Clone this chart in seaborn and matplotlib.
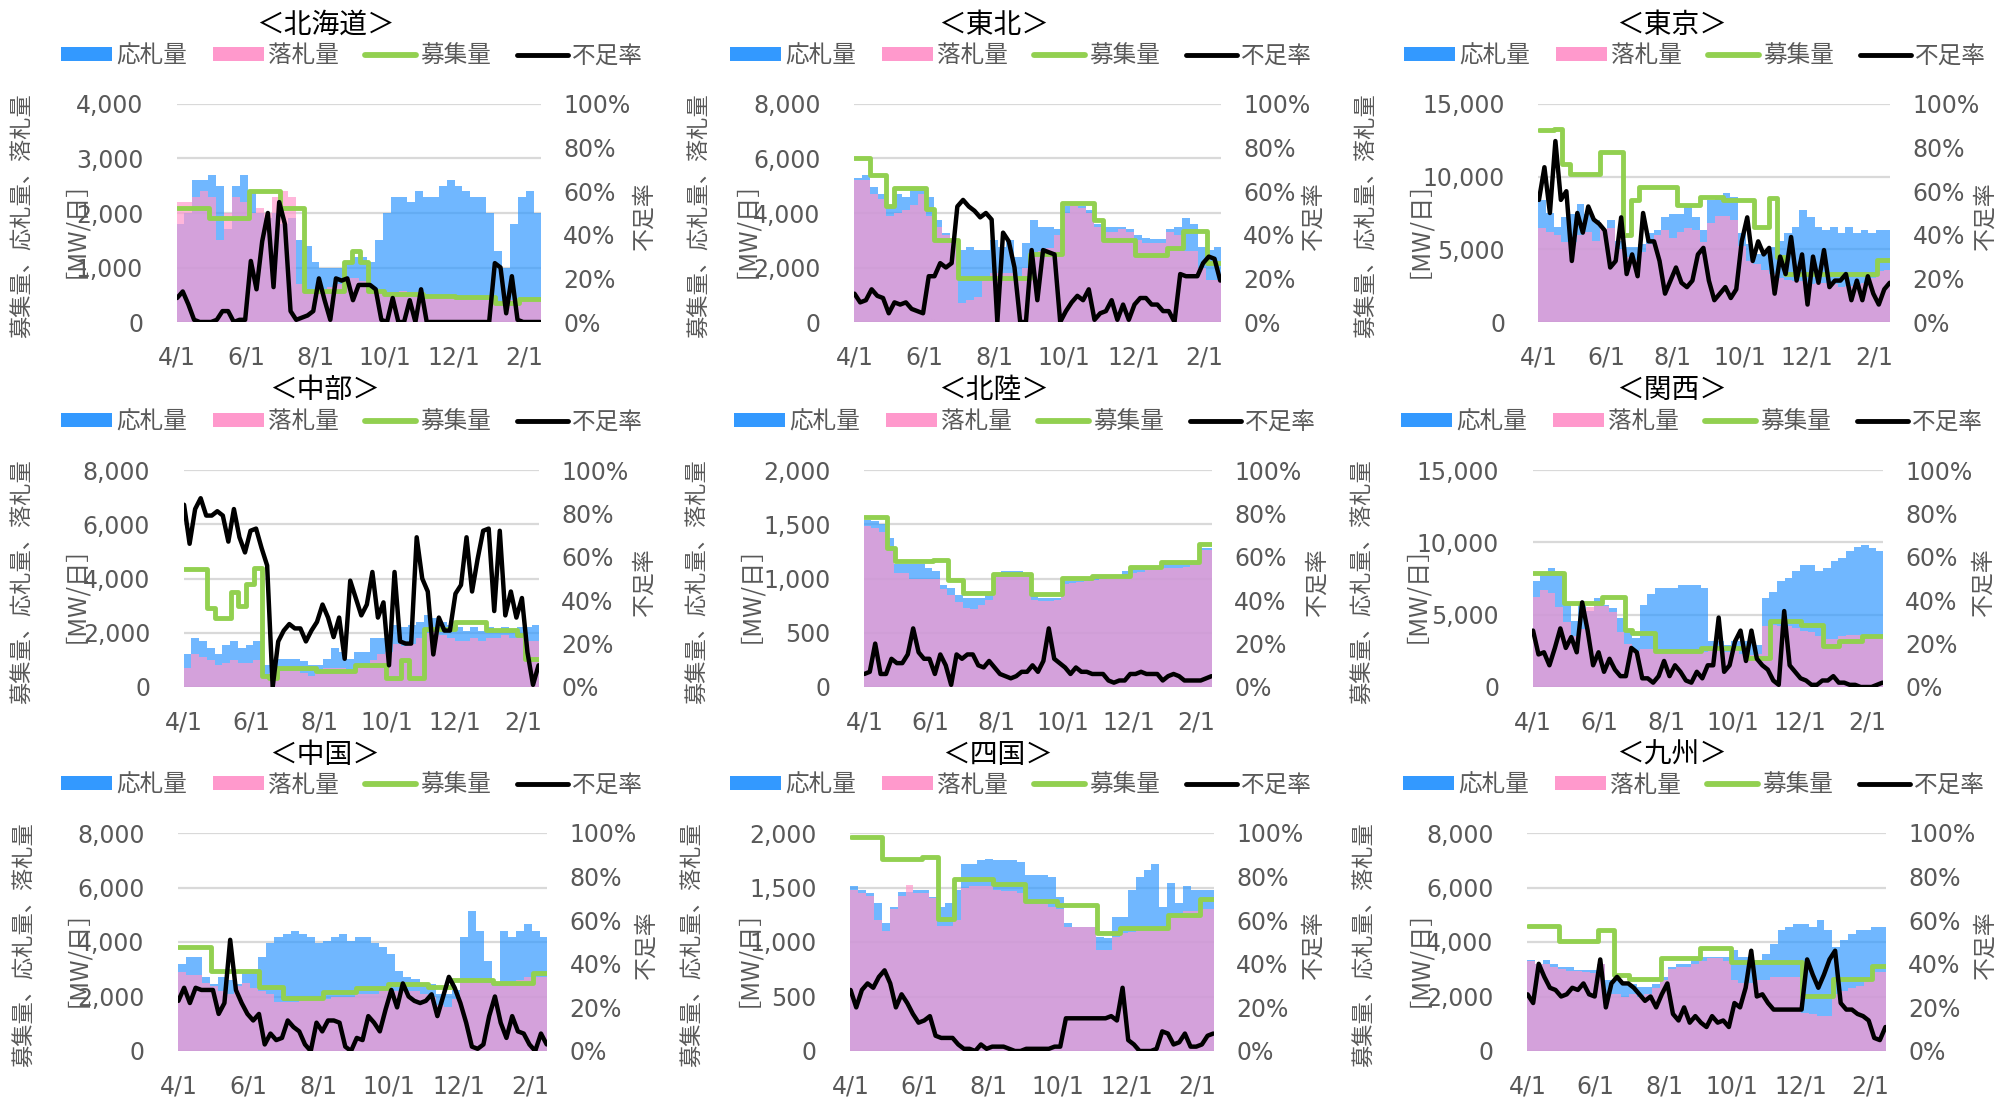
import numpy as np
import pandas as pd
import matplotlib
matplotlib.use("Agg")
import matplotlib.pyplot as plt
import seaborn as sns
from matplotlib.patches import Patch
from matplotlib.lines import Line2D
from matplotlib.ticker import FuncFormatter, PercentFormatter
from matplotlib.font_manager import FontProperties

sns.set_theme(style="white")
plt.rcParams["font.family"] = ["DejaVu Sans", "Noto Sans CJK JP"]
JP = ["Noto Sans CJK JP", "DejaVu Sans"]

# ---------------- data (weekly bars/recruitment, 5-day shortage rate) ----------------
START = "2024-04-01"
N_DAYS = 321
TICK_DATES = ["2024-04-01", "2024-06-01", "2024-08-01", "2024-10-01", "2024-12-01", "2025-02-01"]
TICK_LABELS = ["4/1", "6/1", "8/1", "10/1", "12/1", "2/1"]
LEGEND_LABELS = ["応札量", "落札量", "募集量", "不足率"]

HOKKAIDO_BID = [1800,2000,2600,2600,2700,2500,1700,2500,2700,2400,2000,1900,2000,1800,1900,1500,1400,1100,1000,1000,1000,1100,1200,1200,1100,1500,2000,2300,2300,2200,2400,2300,2300,2500,2600,2500,2400,2300,2300,2000,1300,1000,1800,2300,2400,2000]
HOKKAIDO_AWARD = [2200,2200,2300,2400,2300,1500,2000,2300,2200,2000,2100,2000,2300,2400,2300,700,600,600,600,650,700,800,800,750,650,550,550,550,560,550,550,500,500,480,480,480,460,460,400,400,380,380,400,400,400,400]
HOKKAIDO_REC = [2100,2100,2100,2100,1900,1900,1900,1900,1900,2400,2400,2400,2400,2100,2100,2100,560,560,560,560,560,1100,1300,1100,560,560,520,520,520,520,520,470,470,470,470,450,450,450,450,450,350,350,350,420,420,420]
HOKKAIDO_SHORT = [11,14,8,1,0,0,0,1,5,5,0,1,1,28,15,37,50,16,55,45,5,1,2,3,5,20,10,1,20,19,20,10,17,17,17,15,1,0,11,0,0,10,0,15,0,0,0,0,0,0,0,0,0,0,0,0,27,25,4,21,1,0,0,0,0]

TOHOKU_BID = [5300,5400,4950,4700,4200,4700,4600,4850,4850,4600,3750,3250,3000,2650,2750,2650,2650,3000,2750,3000,2400,2900,3750,3500,3500,3400,4250,4350,4250,4100,3600,3500,3500,3500,3400,3200,3100,3050,3050,3400,3500,3800,3600,2750,2650,2750]
TOHOKU_AWARD = [5200,5200,4700,4500,3900,4000,4100,4300,4700,3900,3500,3200,2900,700,800,900,1500,1800,1800,1800,1700,2000,2500,2600,2700,3200,4000,4300,4200,4000,3500,3300,3300,3400,3300,3000,2900,2900,2900,3300,3200,2600,2600,2000,1550,1550]
TOHOKU_REC = [6000,6000,5400,5400,4250,4900,4900,4900,4900,4150,3000,3000,3000,1600,1600,1600,1600,1600,1600,1600,1600,1600,2500,2500,2500,2500,4350,4350,4350,4350,3750,3000,3000,3000,3000,2450,2450,2450,2450,2700,2700,3350,3350,3350,2150,2150]
TOHOKU_SHORT = [13,9,10,15,12,11,4,9,8,9,6,5,4,21,21,27,25,27,53,56,53,51,48,50,47,0,41,37,25,0,0,33,10,33,32,31,0,5,9,12,10,15,1,4,5,10,1,8,1,8,11,11,8,8,5,5,0,22,21,21,21,27,30,29,19]

TOKYO_BID = [8400,7500,6550,7200,7450,8150,7450,7000,6300,7000,5600,5150,5150,5400,6100,6300,7250,7450,7450,7900,7250,6300,8400,8600,8850,8600,6100,5400,4700,4700,5150,5600,6100,6550,7700,7250,6550,6300,6550,6100,6550,6100,6300,6100,6300,6300]
TOKYO_AWARD = [6500,6200,6000,5500,5500,6000,6200,5600,6400,6500,5000,4500,4300,4800,5400,6000,6300,5800,6200,6500,6300,5500,6800,7300,7300,7000,5200,4200,4000,3600,3300,3000,2900,2800,2800,2600,2700,2700,2600,2400,2500,2600,2700,3000,3500,3600]
TOKYO_REC = [13200,13200,13300,10900,10200,10200,10200,10200,11700,11700,11700,6000,8400,9300,9300,9300,9300,9300,8050,8050,8050,8600,8600,8600,8400,8400,8400,8400,6550,6550,8500,4500,3300,3300,3300,3300,3300,3300,3300,3300,3300,3300,3300,3300,4250,4250]
TOKYO_SHORT = [56,71,50,83,56,60,28,50,41,53,47,45,42,25,28,48,22,31,21,50,37,37,28,13,19,25,18,16,19,31,34,19,10,13,16,11,15,37,48,28,37,31,34,13,30,22,39,19,31,8,30,18,33,16,19,19,22,10,19,10,21,13,8,15,18]

CHUBU_BID = [1200,1800,1700,1450,1200,1550,1700,1450,1550,1700,800,800,1050,1050,1050,950,800,800,1050,1450,1300,1050,1300,1300,1800,1800,1900,2300,2200,2300,2400,2650,2550,2400,2300,2200,2050,2200,2050,2200,2050,2200,2050,2200,2200,2300]
CHUBU_AWARD = [700,1200,1100,1000,800,900,1000,900,900,1000,400,500,600,600,600,500,400,500,700,700,700,600,800,800,1000,1200,1300,1600,1500,1600,1800,2000,2100,1900,1800,1700,1700,1800,1700,1800,1800,1900,1800,1800,1700,1700]
CHUBU_REC = [4350,4350,4350,2900,2550,2550,3500,3000,3800,4400,400,330,700,700,700,700,700,580,580,580,580,580,800,800,800,800,330,330,1000,330,330,2150,2150,2150,2150,2400,2400,2400,2400,2100,2100,2100,2100,1900,1050,1050]
CHUBU_SHORT = [84,66,82,87,79,79,81,79,67,82,69,62,72,73,64,56,0,21,26,29,27,27,21,26,30,38,32,23,32,13,49,41,33,38,53,32,39,10,53,21,20,20,69,50,44,15,32,26,26,43,47,69,44,59,72,73,35,72,33,44,32,41,16,1,10]

HOKURIKU_BID = [1540,1530,1500,1370,1130,1130,1130,1130,1100,1070,940,910,850,820,820,820,850,1035,1065,1065,1065,1035,835,820,820,820,975,975,975,990,1005,1020,1035,1035,1065,1100,1100,1100,1100,1130,1130,1130,1130,1130,1280,1280]
HOKURIKU_AWARD = [1480,1470,1430,1250,1050,1050,1000,1000,1000,1000,900,850,780,730,720,760,800,1050,1050,1050,1050,1020,800,790,790,800,950,960,970,980,990,1000,1010,1010,1030,1050,1060,1080,1090,1100,1100,1100,1110,1120,1260,1260]
HOKURIKU_REC = [1565,1565,1565,1280,1160,1160,1160,1160,1160,1170,1170,990,990,865,865,865,865,1040,1040,1040,1040,1040,855,855,855,855,1005,1005,1005,1005,1025,1025,1025,1025,1025,1105,1105,1105,1105,1150,1150,1150,1150,1150,1320,1320]
HOKURIKU_SHORT = [6,7,20,6,6,13,11,11,15,27,16,13,13,6,15,10,1,15,13,15,15,10,9,12,9,6,5,4,5,7,7,10,7,12,27,13,11,9,6,9,7,7,6,6,6,3,2,3,3,6,6,7,6,6,6,3,5,6,5,3,3,3,3,4,5]

KANSAI_BID = [7300,7750,8200,8000,5700,4550,5700,5250,6150,5700,5450,4750,3850,3400,5700,6400,6850,6850,6850,7050,7050,7050,6850,3150,3150,2900,3150,3150,3150,2900,6150,6600,7300,7550,8000,8450,8450,8000,8200,8700,8900,9400,9700,9850,9600,9400]
KANSAI_AWARD = [6200,6700,6500,5500,4500,3500,4000,5500,5700,5600,5200,3800,3000,2500,2600,2600,2600,2500,2500,2500,2400,2400,2400,2500,2500,2400,2500,2300,2200,2300,4200,4300,4200,4200,4100,3900,3800,3500,3300,3300,3500,3600,3600,3600,3600,3600]
KANSAI_REC = [7900,7900,7900,7900,5800,5800,5800,5800,5800,6250,6250,6250,3950,3700,3700,3700,2500,2500,2500,2500,2500,2500,2700,2700,2700,2700,2700,2700,2000,2000,2000,4550,4550,4550,4550,4300,4300,4300,2800,2800,3150,3150,3150,3500,3500,3500]
KANSAI_SHORT = [26,15,16,10,18,27,18,23,16,39,26,10,16,7,13,8,5,5,18,16,4,4,2,5,12,5,10,7,3,2,7,4,10,10,32,7,10,21,26,12,26,13,10,8,3,1,35,10,7,4,3,1,1,3,3,5,2,2,1,1,0,0,0,1,2]

CHUGOKU_BID = [3200,3450,3450,2700,2450,2700,2600,2450,2950,2950,3450,3950,4200,4300,4400,4300,4200,3950,4050,4200,4300,4050,4200,4200,3950,3800,3550,2950,2700,2650,2450,2450,2100,2100,2250,4200,5150,4400,3300,2450,4400,4200,4400,4650,4400,4200]
CHUGOKU_AWARD = [2900,2800,2800,2500,2400,2200,2100,2400,2500,2300,2200,2100,1800,1800,1800,1900,1900,1900,1900,2000,2000,2000,2100,2100,2100,2200,2200,2200,2200,2200,2100,2000,1700,1600,1900,2600,2600,2600,2500,2400,2400,2500,2600,2700,2700,2700]
CHUGOKU_REC = [3800,3800,3800,3800,2950,2950,2950,2950,2950,2950,2350,2350,2350,1950,1950,1950,1950,1950,2150,2150,2150,2150,2300,2300,2300,2300,2450,2450,2450,2450,2450,2350,2350,2350,2600,2600,2600,2600,2600,2500,2500,2500,2500,2500,2850,2850]
CHUGOKU_SHORT = [23,29,22,29,28,28,28,17,22,51,28,22,17,14,17,3,8,5,6,14,11,9,3,0,13,9,14,14,13,2,0,6,5,16,13,9,19,28,20,31,25,23,22,23,26,16,25,34,29,22,13,2,1,3,16,25,13,6,16,9,8,3,0,8,3]

SHIKOKU_BID = [1510,1475,1445,1355,1170,1325,1460,1460,1475,1475,1415,1325,1355,1475,1720,1720,1750,1765,1750,1750,1750,1735,1615,1615,1615,1600,1415,1170,1140,1140,1140,1050,1040,1230,1230,1475,1600,1660,1720,1325,1540,1355,1510,1475,1475,1475]
SHIKOKU_AWARD = [1480,1450,1420,1200,1100,1300,1420,1520,1450,1450,1400,1150,1150,1200,1500,1510,1510,1510,1480,1470,1470,1450,1350,1350,1350,1320,1300,1140,1140,1140,1140,930,930,1050,1080,1090,1100,1100,1100,1150,1230,1250,1280,1280,1300,1300]
SHIKOKU_REC = [1965,1965,1965,1965,1760,1760,1760,1760,1760,1780,1780,1215,1215,1575,1575,1575,1575,1575,1530,1530,1530,1530,1375,1375,1375,1375,1340,1340,1340,1340,1340,1085,1085,1085,1125,1125,1125,1125,1125,1125,1245,1245,1245,1245,1395,1395]
SHIKOKU_SHORT = [28,20,28,31,29,34,37,31,20,26,22,17,13,14,16,7,6,6,6,3,1,1,0,3,1,2,2,2,1,0,0,1,1,1,1,1,2,2,15,15,15,15,15,15,15,15,16,14,29,5,3,0,0,0,1,9,8,3,4,8,2,2,3,7,8]

KYUSHU_BID = [3330,3200,3330,3200,3080,3080,2960,2960,2960,3200,2600,2600,2470,2470,2350,2350,2470,2720,3080,3200,3200,3330,3450,3450,3450,3450,3700,3450,3450,3330,3570,3940,4430,4550,4670,4670,4550,4800,4430,3820,4060,4300,4430,4430,4550,4550]
KYUSHU_AWARD = [3300,3200,3200,3100,3000,2950,2950,2900,2850,3200,2100,2100,2000,2100,2000,2100,2300,2600,3000,3100,3100,3200,3300,3400,3400,3300,2600,2500,2500,2600,2600,2700,2700,2700,2700,1400,1350,1300,1300,2100,2200,2300,2400,2600,2900,2900]
KYUSHU_REC = [4600,4600,4600,4600,4040,4040,4040,4040,4040,4430,4430,2780,2780,2650,2650,2650,2650,3410,3410,3410,3410,3410,3780,3780,3780,3780,3270,3270,3270,3270,3270,3270,3270,3270,3270,2020,2020,2020,2020,2650,2650,2650,2650,2650,3120,3120]
KYUSHU_SHORT = [26,22,40,34,29,28,25,26,29,28,31,26,25,42,20,31,34,31,31,29,26,23,25,20,26,31,17,14,20,13,16,13,11,16,13,14,11,22,20,29,46,25,26,22,19,19,19,19,19,19,42,35,29,35,42,46,22,19,19,17,16,14,6,5,11]

REGIONS = [
    ("北海道", HOKKAIDO_BID, HOKKAIDO_AWARD, HOKKAIDO_REC, HOKKAIDO_SHORT, 4000, 1000),
    ("東北", TOHOKU_BID, TOHOKU_AWARD, TOHOKU_REC, TOHOKU_SHORT, 8000, 2000),
    ("東京", TOKYO_BID, TOKYO_AWARD, TOKYO_REC, TOKYO_SHORT, 15000, 5000),
    ("中部", CHUBU_BID, CHUBU_AWARD, CHUBU_REC, CHUBU_SHORT, 8000, 2000),
    ("北陸", HOKURIKU_BID, HOKURIKU_AWARD, HOKURIKU_REC, HOKURIKU_SHORT, 2000, 500),
    ("関西", KANSAI_BID, KANSAI_AWARD, KANSAI_REC, KANSAI_SHORT, 15000, 5000),
    ("中国", CHUGOKU_BID, CHUGOKU_AWARD, CHUGOKU_REC, CHUGOKU_SHORT, 8000, 2000),
    ("四国", SHIKOKU_BID, SHIKOKU_AWARD, SHIKOKU_REC, SHIKOKU_SHORT, 2000, 500),
    ("九州", KYUSHU_BID, KYUSHU_AWARD, KYUSHU_REC, KYUSHU_SHORT, 8000, 2000),
]

# ---------------- layout (pixels) ----------------
W, H = 1997, 1098
ROWS = [  # plot top, plot bottom, title y, legend y
    (104, 322, 25, 56),
    (470, 687, 390, 422),
    (833, 1051, 755, 785),
]
PANELS = [  # left, right, title cx, legend cx, ylabel1 x, ylabel2 x, right label x
    (176.5, 540.8, 325, 352, 22, 62, 644),
    (853.9, 1220.8, 994, 1021, 699, 733, 1313),
    (1538.4, 1890.3, 1672, 1695, 1366, 1406, 1985),
    (183.5, 539.1, 325, 352, 22, 62, 644),
    (863.8, 1212.1, 994, 1025, 697, 737, 1317),
    (1532.5, 1883.0, 1672, 1692, 1362, 1403, 1983),
    (177.8, 547.3, 325, 352, 24, 64, 646),
    (850.0, 1213.8, 998, 1021, 692, 735, 1313),
    (1527.0, 1886.0, 1672, 1694, 1364, 1406, 1985),
]

BLUE = "#3399FF"
PINK = "#FF99CC"
GREEN = "#92D050"
GRAY_TXT = "#595959"
GRID = "#D9D9D9"

start = pd.Timestamp(START)
tick_days = [(pd.Timestamp(d) - start).days for d in TICK_DATES]
n_weeks = len(HOKKAIDO_BID)
week_starts = np.arange(n_weeks) * 7
week_centers = week_starts + 3
short_days = np.arange(len(HOKKAIDO_SHORT)) * 5

fig = plt.figure(figsize=(W / 100, H / 100), dpi=100)


def fx(x):
    return x / W


def fy(y):
    return 1 - y / H


handles = [
    Patch(facecolor=BLUE, edgecolor="none"),
    Patch(facecolor=PINK, edgecolor="none"),
    Line2D([], [], color=GREEN, lw=4.2, solid_capstyle="round"),
    Line2D([], [], color="black", lw=3.5),
]

for i, (name, bid, award, rec, short, ymax, ystep) in enumerate(REGIONS):
    r = i // 3
    top, bot, ty, ly = ROWS[r]
    left, right, tcx, lcx, yl1, yl2, rl = PANELS[i]
    ax = fig.add_axes([fx(left), fy(bot), (right - left) / W, (bot - top) / H])

    sns.barplot(x=week_centers, y=bid, native_scale=True, width=1.0, color=BLUE,
                saturation=1, alpha=0.7, errorbar=None, linewidth=0, ax=ax)
    sns.barplot(x=week_centers, y=award, native_scale=True, width=1.0, color=PINK,
                saturation=1, alpha=0.7, errorbar=None, linewidth=0, ax=ax)
    sx = np.append(week_starts, N_DAYS - 0.5)
    sy = np.append(rec, rec[-1])
    sns.lineplot(x=sx, y=sy, ax=ax, color=GREEN, linewidth=3.5,
                 drawstyle="steps-post", errorbar=None, legend=False)

    ax.set_xlim(-0.5, N_DAYS - 0.5)
    ax.set_ylim(0, ymax)
    ax.set_yticks(np.arange(0, ymax + 1, ystep))
    ax.yaxis.set_major_formatter(FuncFormatter(lambda v, p: f"{int(v):,}"))
    ax.set_xticks(tick_days)
    ax.set_xticklabels(TICK_LABELS)
    ax.grid(axis="y", color=GRID, linewidth=1.6)
    ax.grid(axis="x", visible=False)
    ax.set_axisbelow(True)
    for s in ax.spines.values():
        s.set_visible(False)
    ax.tick_params(axis="y", length=0, labelsize=17, labelcolor=GRAY_TXT, pad=24)
    ax.tick_params(axis="x", length=0, labelsize=17, labelcolor=GRAY_TXT, pad=17)
    ax.set_xlabel("")
    ax.set_ylabel("")

    ax2 = ax.twinx()
    sns.lineplot(x=short_days, y=np.array(short) / 100.0, ax=ax2, color="black",
                 linewidth=3.2, errorbar=None, legend=False)
    ax2.set_ylim(0, 1)
    ax2.set_yticks(np.arange(0, 1.01, 0.2))
    ax2.yaxis.set_major_formatter(PercentFormatter(1.0, decimals=0))
    ax2.grid(False)
    for s in ax2.spines.values():
        s.set_visible(False)
    ax2.tick_params(axis="y", length=0, labelsize=17, labelcolor=GRAY_TXT, pad=16)
    ax2.set_ylabel("")
    ax2.set_xlim(-0.5, N_DAYS - 0.5)

    mid = (top + bot) / 2 + 3
    fig.text(fx(tcx), fy(ty), f"＜{name}＞", ha="center", va="center",
             fontsize=20, color="black", family=JP)
    fig.text(fx(yl1), fy(mid), "募集量、応札量、落札量", rotation=90, ha="center",
             va="center", fontsize=16, color=GRAY_TXT, family=JP)
    fig.text(fx(yl2), fy(mid), "［MW/日］", rotation=90, ha="center",
             va="center", fontsize=17.5, color=GRAY_TXT, family=JP)
    fig.text(fx(rl), fy(mid), "不足率", rotation=90, ha="center",
             va="center", fontsize=16.5, color=GRAY_TXT, family=JP)

    fig.legend(handles, LEGEND_LABELS, loc="center", bbox_to_anchor=(fx(lcx), fy(ly)),
               ncol=4, frameon=False, prop=FontProperties(family=JP, size=17),
               labelcolor=GRAY_TXT, handlelength=2.16, handleheight=0.55,
               handletextpad=0.17, columnspacing=1.1, borderpad=0, borderaxespad=0)

fig.savefig("out.png", dpi=100)
